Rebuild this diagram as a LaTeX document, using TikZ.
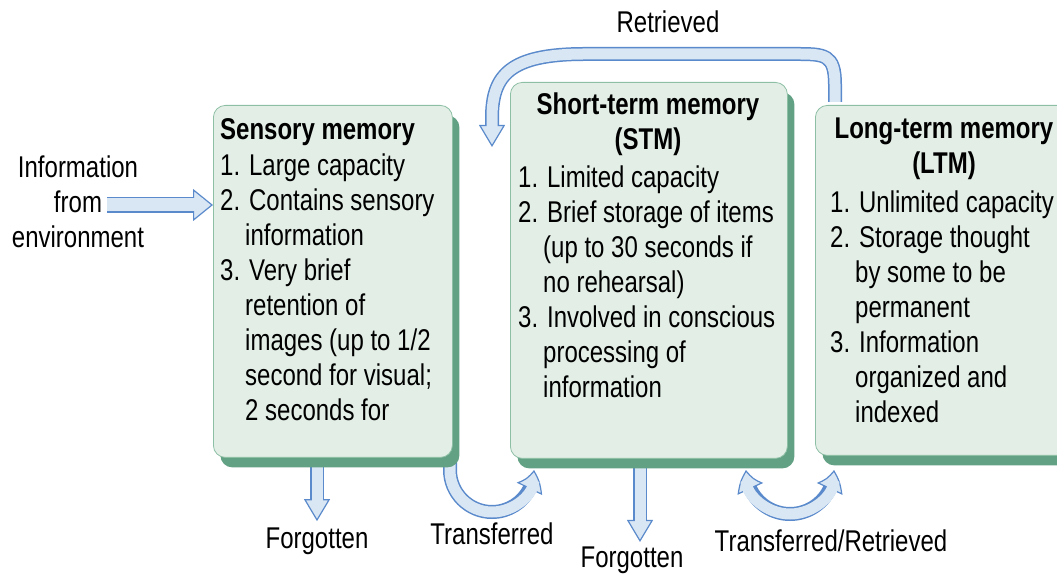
\documentclass[tikz,border=0pt]{standalone}
\usepackage{fontspec}
\setmainfont{Liberation Sans}[FakeStretch=0.8]
\usetikzlibrary{arrows.meta,bending,shadows,backgrounds,positioning}

\definecolor{boxfill}{RGB}{227,238,230}
\definecolor{boxedge}{RGB}{141,191,164}
\definecolor{boxshade}{RGB}{99,161,132}
\definecolor{arrowfill}{RGB}{217,230,244}
\definecolor{arrowline}{RGB}{90,138,203}

\newcommand{\wrapin}{\hspace*{25pt}}

\tikzstyle{memory}=[%
	draw=boxedge, line width=0.8pt, fill=boxfill,
	rounded corners=12pt, inner sep=0pt, anchor=north west,
	general shadow={fill=boxshade, shadow xshift=7pt, shadow yshift=-10pt}
]
\tikzstyle{heading}=[inner sep=0pt, align=center, anchor=north, font=\bfseries\fontsize{30}{35}\selectfont]
\tikzstyle{points}=[inner sep=0pt, align=left, anchor=north west, font=\fontsize{30}{35}\selectfont]
\tikzstyle{tag}=[inner sep=2pt, anchor=base, font=\fontsize{30}{35}\selectfont]

\tikzset{
	bigtip/.tip={Triangle[length=20pt, width=32pt, fill=arrowfill, line width=1.2pt]},
	smalltip/.tip={Triangle[length=22pt, width=26pt, fill=arrowfill, line width=1.2pt]},
	benttip/.tip={Triangle[length=20pt, width=28pt, fill=arrowfill, line width=1.2pt, bend]},
	flow/.style={draw=arrowfill, line width=13pt, shorten >=10pt,
		preaction={draw=arrowline, line width=16pt, shorten >=0pt, -bigtip}},
	thinflow/.style={draw=arrowfill, line width=11pt, shorten >=13pt,
		preaction={draw=arrowline, line width=14pt, shorten >=0pt, -smalltip}},
	curveflow/.style={draw=arrowfill, line width=11pt, shorten >=11pt,
		preaction={draw=arrowline, line width=14pt, shorten >=0pt, -benttip}},
	bothflow/.style={draw=arrowfill, line width=11pt, shorten >=11pt, shorten <=11pt,
		preaction={draw=arrowline, line width=14pt, shorten >=0pt, shorten <=0pt, benttip-benttip}}
}

\begin{document}
\begin{tikzpicture}[x=1pt, y=1pt]
	\useasboundingbox (0,0) rectangle (1057,580);

	% Boxes
	\node[memory, minimum width=239pt, minimum height=352pt] (sens) at (213,475) {};
	\node[memory, minimum width=277pt, minimum height=376pt] (stm) at (510,498) {};
	\node[memory, minimum width=262pt, minimum height=350pt] (ltm) at (815,475) {};

	% Box texts
	\node[heading, anchor=north west] (senshead) at (220,462) {Sensory memory};
	\node[points] (senslist) at (220,426) {1. Large capacity\\2. Contains sensory\\\wrapin information\\3. Very brief\\\wrapin retention of\\\wrapin images (up to 1/2\\\wrapin second for visual;\\\wrapin 2 seconds for};

	\node[heading] (stmhead) at (648,487) {Short-term memory\\(STM)};
	\node[points] (stmlist) at (518,414) {1. Limited capacity\\2. Brief storage of items\\\wrapin (up to 30 seconds if\\\wrapin no rehearsal)\\3. Involved in conscious\\\wrapin processing of\\\wrapin information};

	\node[heading] (ltmhead) at (944,462) {Long-term memory\\(LTM)};
	\node[points] (ltmlist) at (830,389) {1. Unlimited capacity\\2. Storage thought\\\wrapin by some to be\\\wrapin permanent\\3. Information\\\wrapin organized and\\\wrapin indexed};

	% Outside labels
	\node[points, align=center, anchor=north] (info) at (78,424) {Information\\from\\environment};
	\node[tag] (retr) at (668,547) {Retrieved};
	\node[tag] (forgot1) at (317,31) {Forgotten};
	\node[tag] (trans) at (492,35) {Transferred};
	\node[tag] (forgot2) at (632,12) {Forgotten};
	\node[tag] (transretr) at (831,28) {Transferred/Retrieved};

	% Arrows, under the boxes
	\begin{scope}[on background layer]
		\coordinate (infeed) at (107,375);
		\draw[flow] (infeed) -- (infeed -| sens.west);

		\coordinate[above=5pt of forgot1] (f1tip);
		\draw[thinflow] (sens.south -| f1tip) -- (f1tip);
		\coordinate (f2tip) at (640,38);
		\draw[thinflow] (stm.south -| f2tip) -- (f2tip);

		\coordinate (tstart) at (450,123);
		\draw[curveflow] (tstart) -- ++(0,-13) arc[start angle=180, end angle=360, radius=42];

		\coordinate (trstart) at (746,110);
		\draw[bothflow] (trstart) arc[start angle=180, end angle=360, radius=44];

		\coordinate (rstart) at (835,478);
		\coordinate (rtip) at (492,433);
		\draw[thinflow] (rstart) -- (835,495) .. controls (835,526) and (825,526) .. (795,526)
			-- (585,526) .. controls (510,526) and (492,505) .. (492,462) -- (rtip);
	\end{scope}

\end{tikzpicture}
\end{document}
